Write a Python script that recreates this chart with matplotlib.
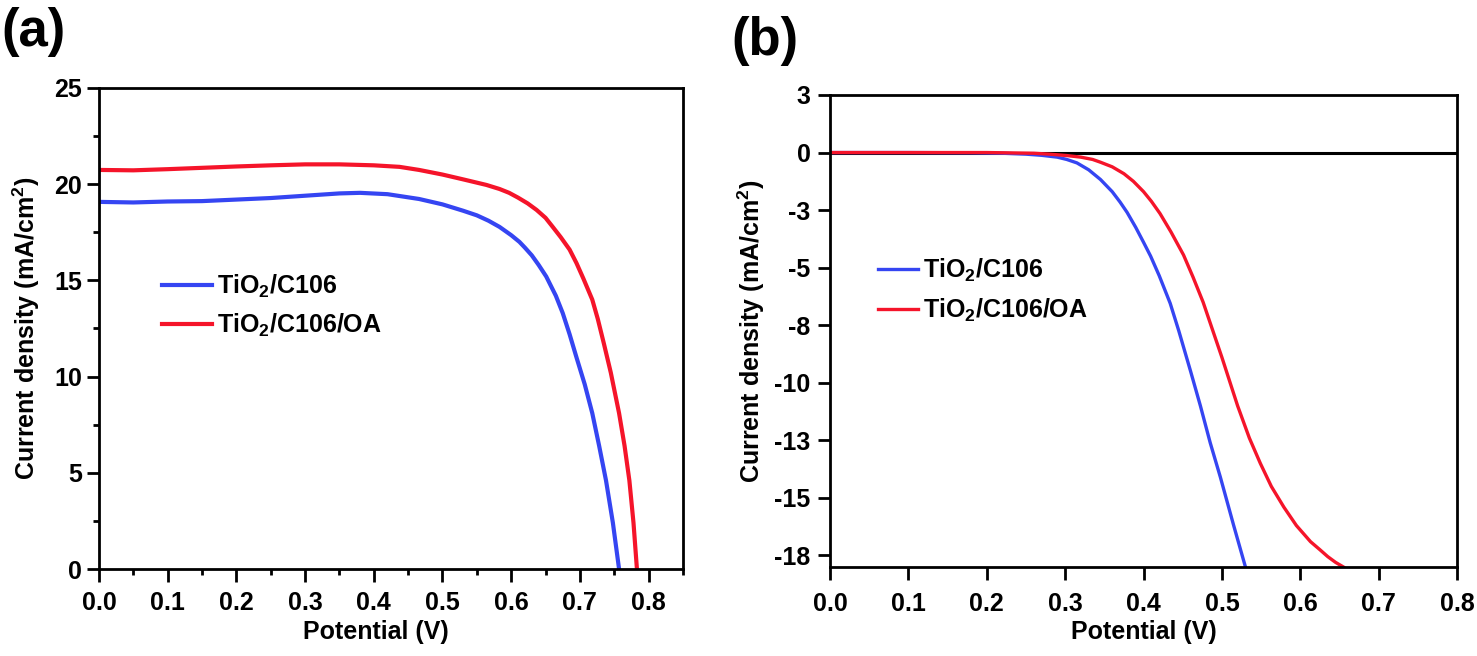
import matplotlib
matplotlib.use('Agg')
import matplotlib.pyplot as plt
from matplotlib.ticker import MultipleLocator

plt.rcParams['font.family'] = ['Liberation Sans', 'DejaVu Sans']
plt.rcParams['font.weight'] = 'bold'
plt.rcParams['mathtext.fontset'] = 'custom'
plt.rcParams['mathtext.rm'] = 'Liberation Sans:bold'
plt.rcParams['mathtext.it'] = 'Liberation Sans:bold'
plt.rcParams['mathtext.bf'] = 'Liberation Sans:bold'
plt.rcParams['mathtext.default'] = 'rm'

# panel (a) J-V curves (light)
a_v_c106 = [0.00, 0.05, 0.10, 0.15, 0.20, 0.25, 0.30, 0.35, 0.38, 0.42, 0.466, 0.50, 0.53,
            0.55, 0.567, 0.583, 0.60, 0.612, 0.62, 0.63, 0.64, 0.651, 0.665, 0.675, 0.685,
            0.695, 0.707, 0.718, 0.728, 0.738, 0.748, 0.757]
a_j_c106 = [19.08, 19.05, 19.10, 19.12, 19.20, 19.28, 19.40, 19.52, 19.55, 19.48, 19.23, 18.95, 18.62,
            18.38, 18.1, 17.78, 17.35, 17.0, 16.7, 16.3, 15.8, 15.2, 14.2, 13.3, 12.2,
            11.0, 9.6, 8.1, 6.4, 4.6, 2.4, 0.0]
a_v_oa = [0.00, 0.05, 0.10, 0.15, 0.20, 0.25, 0.30, 0.35, 0.40, 0.4375, 0.466, 0.50, 0.53,
          0.564, 0.583, 0.597, 0.61, 0.624, 0.637, 0.65, 0.66, 0.672, 0.685, 0.695, 0.705,
          0.718, 0.726, 0.735, 0.745, 0.757, 0.765, 0.772, 0.778, 0.783]
a_j_oa = [20.74, 20.72, 20.78, 20.85, 20.92, 20.98, 21.03, 21.03, 20.98, 20.9, 20.74, 20.5, 20.25,
          19.96, 19.75, 19.55, 19.3, 19.0, 18.66, 18.25, 17.8, 17.25, 16.6, 15.9, 15.1,
          14.0, 13.0, 11.7, 10.2, 8.1, 6.4, 4.6, 2.4, 0.0]

# panel (b) J-V curves (dark)
b_v_c106 = [0.00, 0.10, 0.18, 0.22, 0.25, 0.27, 0.29, 0.302, 0.315, 0.33, 0.345, 0.36, 0.37,
            0.379, 0.39, 0.40, 0.409, 0.42, 0.434, 0.445, 0.46, 0.4725, 0.485, 0.498, 0.515, 0.530]
b_j_c106 = [0.0, 0.0, -0.01, -0.03, -0.07, -0.12, -0.2, -0.3, -0.45, -0.75, -1.17, -1.7, -2.15,
            -2.6, -3.25, -3.9, -4.5, -5.35, -6.55, -7.75, -9.5, -11.0, -12.6, -14.1, -16.2, -18.0]
b_v_oa = [0.00, 0.20, 0.24, 0.26, 0.28, 0.302, 0.32, 0.335, 0.345, 0.36, 0.375, 0.387, 0.40,
          0.41, 0.421, 0.435, 0.451, 0.463, 0.476, 0.488, 0.50, 0.51, 0.52, 0.535, 0.549,
          0.563, 0.579, 0.595, 0.613, 0.625, 0.635, 0.645, 0.655]
b_j_oa = [0.0, 0.0, -0.02, -0.03, -0.07, -0.13, -0.2, -0.3, -0.42, -0.62, -0.92, -1.25, -1.7,
          -2.12, -2.65, -3.45, -4.45, -5.4, -6.5, -7.7, -8.9, -9.95, -11.0, -12.4, -13.5,
          -14.5, -15.4, -16.2, -16.9, -17.25, -17.55, -17.8, -18.0]

labels = ['TiO$_2$/C106', 'TiO$_2$/C106/OA']
b_yticks = [2.5, 0, -2.5, -5, -7.5, -10, -12.5, -15, -17.5]
b_yticklabels = ['3', '0', '-3', '-5', '-8', '-10', '-13', '-15', '-18']

blue = '#3545f2'
red = '#f5142a'
ylab = 'Current density (mA/cm$^2$)'

fig = plt.figure(figsize=(14.77, 6.56), dpi=100)
ax1 = fig.add_axes([0.0670, 0.1326, 0.3954, 0.7333])
ax2 = fig.add_axes([0.5620, 0.1357, 0.4245, 0.7195])

for ax in (ax1, ax2):
    for s in ax.spines.values():
        s.set_linewidth(2.0)
    ax.tick_params(which='major', direction='out', length=9, width=2, labelsize=18)
    ax.tick_params(which='minor', direction='out', length=4.5, width=2)
    ax.tick_params(axis='x', pad=7)
    ax.tick_params(axis='y', pad=3)

# (a)
ax1.plot(a_v_c106, a_j_c106, color=blue, lw=3.0, label=labels[0])
ax1.plot(a_v_oa, a_j_oa, color=red, lw=3.0, label=labels[1])
ax1.set_xlim(0, 0.85)
ax1.set_ylim(0, 25)
ax1.xaxis.set_major_locator(MultipleLocator(0.1))
ax1.xaxis.set_minor_locator(MultipleLocator(0.05))
ax1.yaxis.set_major_locator(MultipleLocator(5))
ax1.yaxis.set_minor_locator(MultipleLocator(2.5))
ax1.xaxis.set_major_formatter(plt.FormatStrFormatter('%.1f'))
ax1.set_xlabel('Potential (V)', fontsize=18, fontweight='bold')
ax1.set_ylabel(ylab, fontsize=18, fontweight='bold')
ax1.xaxis.set_label_coords(0.474, -0.106)
ax1.yaxis.set_label_coords(-0.098, 0.5)
ax1.legend(loc='upper left', bbox_to_anchor=(0.108, 0.615), frameon=False, fontsize=18,
           handlelength=2.0, handletextpad=0.2, labelspacing=0.45, borderpad=0, borderaxespad=0)

# (b)
ax2.axhline(0, color='black', lw=2.2)
ax2.plot(b_v_c106, b_j_c106, color=blue, lw=2.4, label=labels[0])
ax2.plot(b_v_oa, b_j_oa, color=red, lw=2.4, label=labels[1])
ax2.set_xlim(0, 0.8)
ax2.set_ylim(-18, 2.5)
ax2.xaxis.set_major_locator(MultipleLocator(0.1))
ax2.xaxis.set_major_formatter(plt.FormatStrFormatter('%.1f'))
ax2.set_yticks(b_yticks, b_yticklabels)
ax2.tick_params(axis='y', pad=5)
ax2.tick_params(axis='x', pad=9)
ax2.set_xlabel('Potential (V)', fontsize=18, fontweight='bold')
ax2.set_ylabel(ylab, fontsize=18, fontweight='bold')
ax2.xaxis.set_label_coords(0.5, -0.112)
ax2.yaxis.set_label_coords(-0.1, 0.5)
ax2.legend(loc='upper left', bbox_to_anchor=(0.0766, 0.657), frameon=False, fontsize=18,
           handlelength=1.6, handletextpad=0.2, labelspacing=0.5, borderpad=0, borderaxespad=0)

fig.text(0.001, 0.99, '(a)', fontsize=38, fontweight='bold', va='top', ha='left')
fig.text(0.495, 0.975, '(b)', fontsize=38, fontweight='bold', va='top', ha='left')

plt.savefig('out.png', dpi=100)
